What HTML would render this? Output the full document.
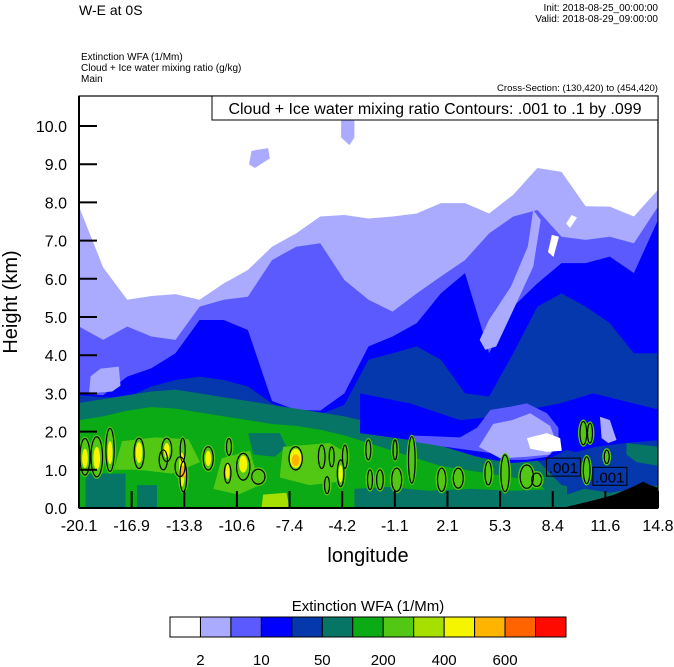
<!DOCTYPE html>
<html><head><meta charset="utf-8"><style>
html,body{margin:0;padding:0;background:#fff;width:674px;height:667px;overflow:hidden}
svg{display:block;font-family:"Liberation Sans",sans-serif}
</style></head><body>
<svg id="chart" width="674" height="667" viewBox="0 0 674 667">
<defs><clipPath id="pc"><rect x="79" y="96" width="579" height="412"/></clipPath></defs>
<text x="79" y="15" font-size="14">W-E at 0S</text>
<text x="658" y="11" font-size="10" text-anchor="end">Init: 2018-08-25_00:00:00</text>
<text x="658" y="22" font-size="10" text-anchor="end">Valid: 2018-08-29_09:00:00</text>
<text x="81" y="60" font-size="10">Extinction WFA   (1/Mm)</text>
<text x="81" y="71" font-size="10">Cloud + Ice water mixing ratio    (g/kg)</text>
<text x="81" y="82" font-size="10">Main</text>
<text x="658" y="91" font-size="9.6" text-anchor="end">Cross-Section: (130,420) to (454,420)</text>
<g id="fills" clip-path="url(#pc)"></g>
<g id="marks" clip-path="url(#pc)"></g>
<rect x="79" y="96" width="579" height="412" fill="none" stroke="#000" stroke-width="1.2"/>
<line x1="79" y1="508" x2="658" y2="508" stroke="#000" stroke-width="2"/>
<line x1="79" y1="96" x2="79" y2="508" stroke="#000" stroke-width="2"/>
<rect x="212" y="96" width="446" height="24" fill="#fff" stroke="#000" stroke-width="1"/>
<text x="435" y="114" font-size="16" text-anchor="middle">Cloud + Ice water mixing ratio Contours: .001 to .1 by .099</text>
<g id="axes"></g>
<text transform="translate(17,302) rotate(-90)" font-size="20" text-anchor="middle">Height (km)</text>
<text x="368" y="562" font-size="20" text-anchor="middle">longitude</text>
<text x="368" y="611" font-size="15" text-anchor="middle">Extinction WFA  (1/Mm)</text>
<g id="cbar"></g>
</svg>
<script>
// ---- data ----
const lonMin=-20.1, lonMax=14.8, kmMax=10.78;
const xTickLabels=["-20.1","-16.9","-13.8","-10.6","-7.4","-4.2","-1.1","2.1","5.3","8.4","11.6","14.8"];
const yTickValues=[0,1,2,3,4,5,6,7,8,9,10];
const levelColors=["#ffffff","#aaaaff","#5a5aff","#0000ff","#0537ad","#077566","#0aab14","#52c814","#a6e000","#f5f500","#ffb400","#ff6400","#ff0a00"];
const cbarLabels=["2","10","50","200","400","600"];
const lavTop=[7.89,6.3,5.45,5.55,5.6,5.45,5.88,6.23,6.84,7.19,7.63,7.67,7.58,7.63,7.71,7.98,7.98,7.71,8.2,8.9,8.8,7.9,7.89,7.63,8.33];
const medTop=[4.75,4.40,4.75,4.49,4.40,5.27,5.45,5.53,6.49,6.84,6.93,5.97,5.45,5.14,5.62,6.06,6.49,7.19,7.63,7.80,7.10,7.02,7.10,6.93,7.89];
const blueTop=[3.00,2.95,3.44,3.66,4.05,4.92,4.92,4.66,2.8,2.57,2.55,3.0,4.23,4.49,4.84,5.62,6.15,4.05,5.27,5.88,6.41,6.41,6.58,6.15,7.54];
const dkTop=[2.95,2.9,2.9,3.18,3.35,3.44,3.35,3.18,2.74,2.45,2.45,2.7,3.88,4.05,4.23,3.88,3.0,2.92,4.05,5.27,5.62,5.27,4.84,4.05,4.05];
const tealTop=[2.75,2.85,2.95,3.05,3.1,3.0,2.9,2.8,2.7,2.6,2.5,2.4,2.25,2.1,1.95,1.7,1.5,1.35,1.3,1.25,0.6,0.5,0.4,0.5,0.6];
const greenTop=[2.3,2.4,2.55,2.64,2.6,2.5,2.4,2.3,2.2,2.15,2.05,1.9,1.7,1.5,1.3,1.1,1.0,0.9,0.8,0.7,0.0,0.0,0.0,0.0,0.0];
const lavBlobA=[[-9.85,9.0],[-9.7,9.35],[-8.7,9.42],[-8.6,9.15],[-9.5,8.9]];
const lavBlobB=[[-4.3,10.2],[-3.5,10.2],[-3.5,9.7],[-3.8,9.5],[-4.3,9.7]];
const whiteHoleA=[[8.17,6.7],[8.4,7.15],[8.83,7.1],[8.5,6.57]];
const whiteHoleB=[[9.26,7.45],[9.6,7.67],[9.92,7.6],[9.5,7.33]];
const lavTongue=[[7.28,7.80],[6.95,6.84],[5.94,5.80],[4.61,4.92],[4.05,4.40],[4.39,4.14],[5.05,4.23],[6.17,5.27],[7.28,6.32],[7.73,7.54]];
const lavLeft=[[-19.5,3.0],[-19.4,3.45],[-18.8,3.65],[-17.7,3.7],[-17.6,3.2],[-18.1,3.05]];
const blueBand=[[-3.16,3.0],[-0.15,2.74],[2.87,2.30],[4.86,2.39],[6.90,2.57],[8.89,2.74],[10.88,3.0],[14.9,2.57],[14.9,1.0],[12.93,1.08],[10.88,1.34],[9.32,1.52],[8.11,1.26],[5.88,1.17],[3.89,1.34],[1.84,1.61],[-0.15,1.78],[-3.16,1.96]];
const medPatch=[[-0.15,1.9],[2.87,1.85],[3.89,2.1],[4.7,2.57],[5.88,2.65],[6.9,2.74],[8.11,2.48],[8.8,2.1],[8.8,1.6],[8.11,1.34],[6.9,1.26],[5.88,1.26],[4.86,1.43],[1.84,1.61],[-0.15,1.75]];
const lavPatch=[[4.0,1.6],[4.86,2.2],[6.0,2.3],[7.1,2.48],[8.3,2.15],[8.7,1.7],[8.3,1.4],[6.9,1.34],[5.3,1.3]];
const whitePatch=[[6.9,1.83],[8.1,1.96],[8.9,1.83],[9.0,1.5],[8.1,1.47],[7.1,1.55]];
const lavRight=[[11.3,2.39],[11.9,2.3],[12.3,1.78],[11.8,1.7],[11.4,1.83]];
const dkRight=[[9.32,1.40],[11.0,1.6],[12.9,1.7],[14.9,1.78],[14.9,0.6],[11.0,0.6],[9.32,0.35]];
const tealRight=[[12.9,1.7],[14.9,1.6],[14.9,1.1],[13.5,1.2],[12.9,1.4]];
const tealPatches=[[-9.9,1.96],[-8.0,1.96],[-7.6,1.6],[-8.3,1.34],[-9.6,1.4]];
const tealBottom=[[-19.7,0],[-19.7,0.9],[-17.3,0.9],[-17.3,0],[-16.6,0],[-16.6,0.6],[-15.4,0.6],[-15.4,0]];
const tealMid=[[-3.5,0],[-3.5,0.5],[-1.5,0.55],[1.0,0.45],[3.5,0.5],[6.0,0.45],[9.3,0.5],[9.3,0]];
const lgBandA=[[-18.0,1.0],[-17.5,1.75],[-15.5,1.85],[-13.5,1.8],[-12.8,1.2],[-14.5,0.9],[-16.5,1.0]];
const lgBandB=[[-12.0,0.5],[-11.5,1.3],[-9.8,1.5],[-9.2,0.6],[-10.5,0.35]];
const lgBandC=[[-8.0,0.8],[-7.8,1.6],[-5.0,1.7],[-3.8,1.4],[-4.2,0.7],[-6.2,0.6]];
const yellowGreenBottom=[[-9.1,0],[-9.0,0.35],[-7.6,0.4],[-7.4,0]];
const terrain=[[9.30,0],[9.30,0.03],[10.90,0.2],[12.11,0.34],[13.31,0.56],[13.92,0.69],[14.32,0.60],[14.9,0.52],[14.9,0]];
// contours: lon, km, width(deg), height(km)
const cLon=[-19.74,-19.03,-18.23,-16.48,-14.81,-15.02,-13.85,-14.01,-13.81,-12.31,-11.06,-11.14,-10.20,-9.29,-7.04,-5.47,-4.87,-4.07,-4.33,-5.15,-2.66,-2.56,-1.05,-0.04,-1.96,-0.95,1.76,2.76,4.57,5.58,6.89,7.49,10.30,10.70,10.50,11.71];
const cKm=[1.34,1.34,1.52,1.43,1.52,1.26,1.52,1.08,0.82,1.30,1.60,0.91,1.08,0.82,1.30,1.34,1.34,1.34,0.91,0.60,1.52,0.74,1.52,1.26,0.74,0.74,0.74,0.78,0.91,0.91,0.82,0.74,1.96,1.96,0.99,1.34];
const cW=[0.60,0.70,0.50,0.60,0.60,0.50,0.30,0.60,0.40,0.60,0.30,0.40,0.80,0.80,0.80,0.40,0.30,0.30,0.40,0.30,0.30,0.30,0.24,0.40,0.40,0.60,0.50,0.60,0.40,0.50,0.80,0.60,0.40,0.30,0.40,0.30];
const cH=[0.96,1.05,1.13,0.79,0.61,0.52,0.61,0.52,0.79,0.61,0.44,0.52,0.70,0.39,0.61,0.61,0.52,0.61,0.70,0.44,0.52,0.52,0.52,1.22,0.52,0.61,0.61,0.52,0.61,0.96,0.61,0.35,0.61,0.52,0.70,0.35];
const yLon=[-19.74,-19.03,-18.23,-16.48,-14.81,-13.9,-12.31,-10.20,-7.04,-4.33,-11.14];
const yKm=[1.30,1.30,1.45,1.45,1.50,1.0,1.30,1.15,1.30,0.9,0.95];
const yW=[0.35,0.4,0.3,0.4,0.35,0.35,0.35,0.5,0.7,0.25,0.25];
const yH=[0.5,0.6,0.6,0.55,0.4,0.9,0.4,0.45,0.5,0.45,0.4];
const oLon=[-13.85,-7.04];
const oKm=[0.95,1.25];
const labelLon=[9.1,11.9];
const labelKm=[1.07,0.83];
// ---- scales ----
const X=l=>79+(l-lonMin)/(lonMax-lonMin)*579;
const Y=k=>508-k*38.2;
const NS="http://www.w3.org/2000/svg";
const fills=document.getElementById('fills'), marks=document.getElementById('marks'), axes=document.getElementById('axes'), cbar=document.getElementById('cbar');
function mk(tag,attrs,parent){const e=document.createElementNS(NS,tag);for(const k in attrs)e.setAttribute(k,attrs[k]);parent.appendChild(e);return e;}
const colLon=lavTop.map((_,i)=>lonMin+i*(lonMax-lonMin)/(lavTop.length-1));
function layer(tops,color,name){
  let pts=[[X(lonMin)-2,508]];
  tops.forEach((t,i)=>pts.push([X(colLon[i]),Y(t)]));
  pts.push([X(lonMax)+2,Y(tops[tops.length-1])],[X(lonMax)+2,508]);
  const p=mk('polygon',{points:pts.map(p=>p.join(',')).join(' '),fill:color},fills);
  
  
}
function poly(arr,color,name,parent){
  const p=mk('polygon',{points:arr.map(a=>X(a[0])+','+Y(a[1])).join(' '),fill:color},parent||fills);
  
  
}
mk('rect',{x:79,y:96,width:579,height:412,fill:levelColors[0]},fills);
layer(lavTop,levelColors[1],'level-2-10');
layer(medTop,levelColors[2],'level-10-20');
layer(blueTop,levelColors[3],'level-20-50');
layer(dkTop,levelColors[4],'level-50-100');
layer(tealTop,levelColors[5],'level-100-200');
layer(greenTop,levelColors[6],'level-200-300');
poly(lavBlobA,levelColors[1],'lavender-blob-a');
poly(lavBlobB,levelColors[1],'lavender-blob-b');
poly(whiteHoleA,levelColors[0],'white-hole-a');
poly(whiteHoleB,levelColors[0],'white-hole-b');
poly(lavTongue,levelColors[1],'lavender-tongue');
poly(lavLeft,levelColors[1],'lavender-left');
poly(blueBand,levelColors[3],'blue-band');
poly(medPatch,levelColors[2],'medium-patch');
poly(lavPatch,levelColors[1],'lavender-patch');
poly(whitePatch,levelColors[0],'white-patch');
poly(lavRight,levelColors[1],'lavender-right');
poly(dkRight,levelColors[4],'darkblue-right');
poly(tealRight,levelColors[5],'teal-right');
poly(tealPatches,levelColors[5],'teal-patch');
poly(tealBottom,levelColors[5],'teal-bottom');
poly(tealMid,levelColors[5],'teal-mid-bottom');
poly(lgBandA,levelColors[7],'lightgreen-band-a');
poly(lgBandB,levelColors[7],'lightgreen-band-b');
poly(lgBandC,levelColors[7],'lightgreen-band-c');
poly(yellowGreenBottom,levelColors[8],'yellowgreen-bottom');
const pxPerDeg=579/(lonMax-lonMin);
cLon.forEach((l,i)=>{
  const e=mk('ellipse',{cx:X(l),cy:Y(cKm[i]),rx:cW[i]*pxPerDeg/2+2,ry:cH[i]*38.2/2+2,fill:levelColors[7]},fills);
  
  
});
yLon.forEach((l,i)=>{
  const e=mk('ellipse',{cx:X(l),cy:Y(yKm[i]),rx:yW[i]*pxPerDeg/2,ry:yH[i]*38.2/2,fill:levelColors[9]},fills);
  
  
});
oLon.forEach((l,i)=>{
  const e=mk('ellipse',{cx:X(l),cy:Y(oKm[i]),rx:4,ry:6,fill:levelColors[10]},fills);
  
  
});
poly(terrain,'#000','terrain',fills);
cLon.forEach((l,i)=>{
  const e=mk('ellipse',{cx:X(l),cy:Y(cKm[i]),rx:cW[i]*pxPerDeg/2,ry:cH[i]*38.2/2,fill:'none',stroke:'#000','stroke-width':1.2},marks);
  
  
});
labelLon.forEach((l,i)=>{
  const g=mk('g',{},marks);
  
  
  mk('rect',{x:X(l)-17,y:Y(labelKm[i])-9,width:34,height:18,fill:'none',stroke:'#000','stroke-width':1},g);
  const t=mk('text',{x:X(l),y:Y(labelKm[i])+6,'font-size':15,'text-anchor':'middle',fill:'#000'},g);
  t.textContent='.001';
});
// axes
xTickLabels.forEach((s,i)=>{
  const x=79+i*579/(xTickLabels.length-1);
  const l=mk('line',{x1:x,y1:508,x2:x,y2:491,stroke:'#000','stroke-width':2},axes);
  
  
  const t=mk('text',{x:x,y:531,'font-size':16,'text-anchor':'middle'},axes);
  
  
  t.textContent=s;
});
yTickValues.forEach(v=>{
  const y=Y(v);
  const l=mk('line',{x1:79,y1:y,x2:97,y2:y,stroke:'#000','stroke-width':2},axes);
  
  
  const t=mk('text',{x:67,y:y+6,'font-size':16,'text-anchor':'end'},axes);
  
  
  t.textContent=v.toFixed(1);
});
// colorbar
const bw=396/levelColors.length;
levelColors.forEach((c,i)=>{
  const r=mk('rect',{x:170+i*bw,y:617,width:bw,height:20,fill:c,stroke:'#000','stroke-width':1},cbar);
  
  
});
cbarLabels.forEach((s,i)=>{
  const t=mk('text',{x:170+(1+2*i)*bw,y:665,'font-size':15,'text-anchor':'middle'},cbar);
  
  
  t.textContent=s;
});
</script>
</body></html>
